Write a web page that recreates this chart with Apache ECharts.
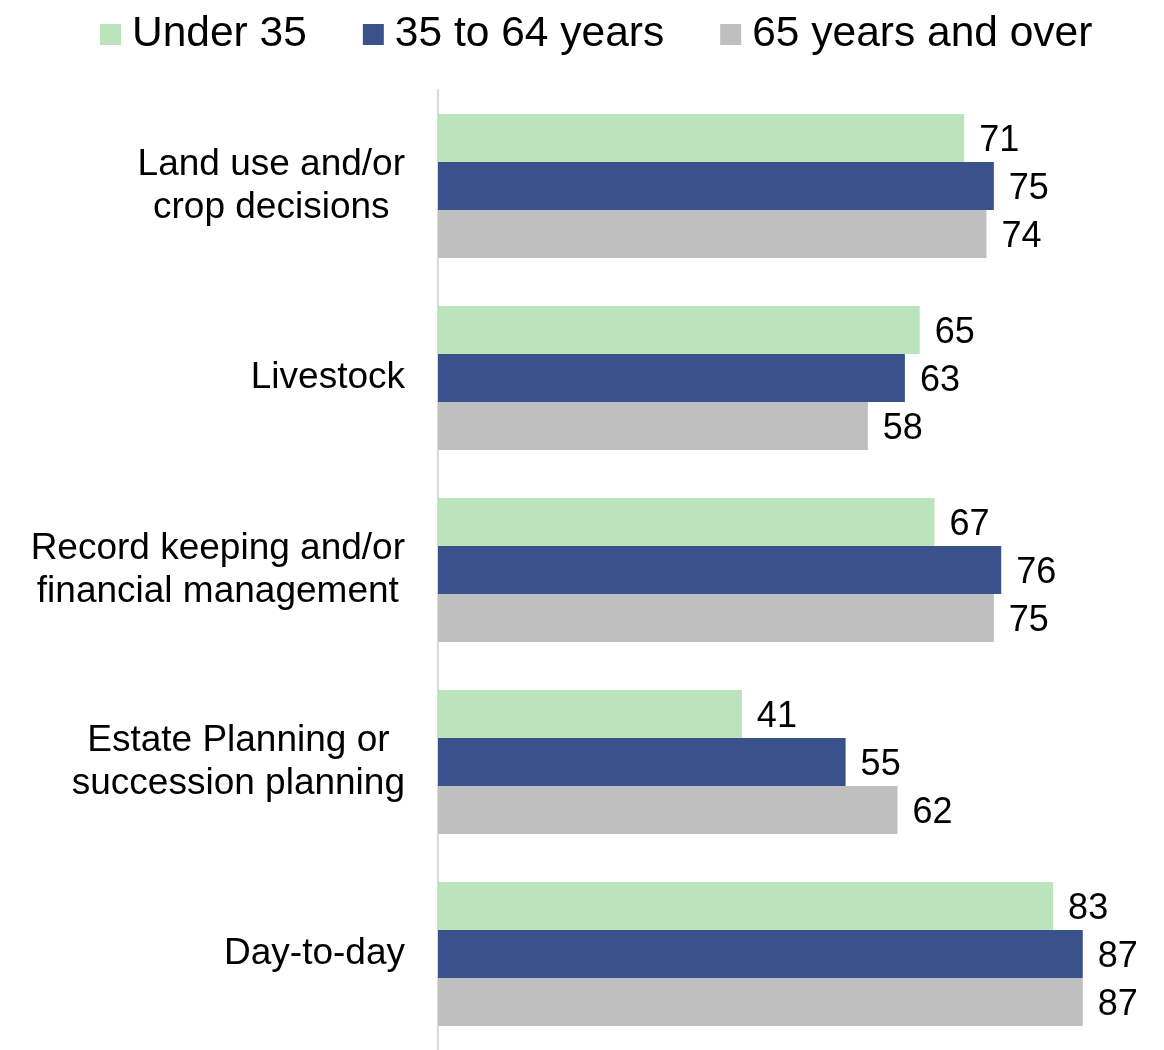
<!DOCTYPE html>
<html>
<head>
<meta charset="utf-8">
<script src="https://cdn.jsdelivr.net/npm/echarts@6/dist/echarts.min.js"></script>
<style>
  html, body { margin: 0; padding: 0; background: #fff; }
  #chart { width: 1164px; height: 1050px; }
</style>
</head>
<body>
<div id="chart"></div>
<script>
  const categories = [
    'Land use and/or\ncrop decisions',
    'Livestock',
    'Record keeping and/or\nfinancial management',
    'Estate Planning or\nsuccession planning',
    'Day-to-day'
  ]
  const seriesNames = ['Under 35', '35 to 64 years', '65 years and over']
  const under35 = [71, 65, 67, 41, 83]
  const age35to64 = [75, 63, 76, 55, 87]
  const age65over = [74, 58, 75, 62, 87]

  const colors = ['#BBE4BD', '#3A528C', '#BFBFBF']
  const font = '"Liberation Sans", Arial, sans-serif'

  let chart = echarts.init(document.getElementById('chart'))

  // one bar series
  function seriesItem(name, data, color) {
    return {
      name: name,
      type: 'bar',
      data: data,
      barWidth: 48,
      barGap: '0%',
      itemStyle: { color: color },
      label: {
        show: true,
        position: 'right',
        distance: 15,
        offset: [0, 3],
        color: '#000',
        fontSize: 36,
        fontFamily: font
      }
    }
  }

  chart.setOption({
    animation: false,
    color: colors,
    legend: {
      top: 8,
      left: 95,
      icon: 'rect',
      itemWidth: 21,
      itemHeight: 21,
      itemGap: 56,
      textStyle: {
        color: '#000',
        fontSize: 42.5,
        fontFamily: font,
        padding: [0, 0, 0, 6]
      },
      data: seriesNames
    },
    grid: {
      left: 438,
      top: 90,
      width: 667,
      height: 964
    },
    xAxis: {
      type: 'value',
      min: 0,
      max: 90,
      show: false
    },
    yAxis: {
      type: 'category',
      inverse: true,
      data: categories,
      axisLine: { show: true, lineStyle: { color: '#D9D9D9', width: 2 } },
      axisTick: { show: false },
      axisLabel: {
        margin: 33,
        formatter: function (v) {
          return v.split('\n').map(function (s) { return '{c|' + s + '}' }).join('\n')
        },
        rich: {
          c: {
            align: 'center',
            color: '#000',
            fontSize: 37,
            lineHeight: 43,
            fontFamily: font
          }
        }
      }
    },
    series: [
      seriesItem(seriesNames[0], under35, colors[0]),
      seriesItem(seriesNames[1], age35to64, colors[1]),
      seriesItem(seriesNames[2], age65over, colors[2])
    ]
  })
</script>
</body>
</html>
